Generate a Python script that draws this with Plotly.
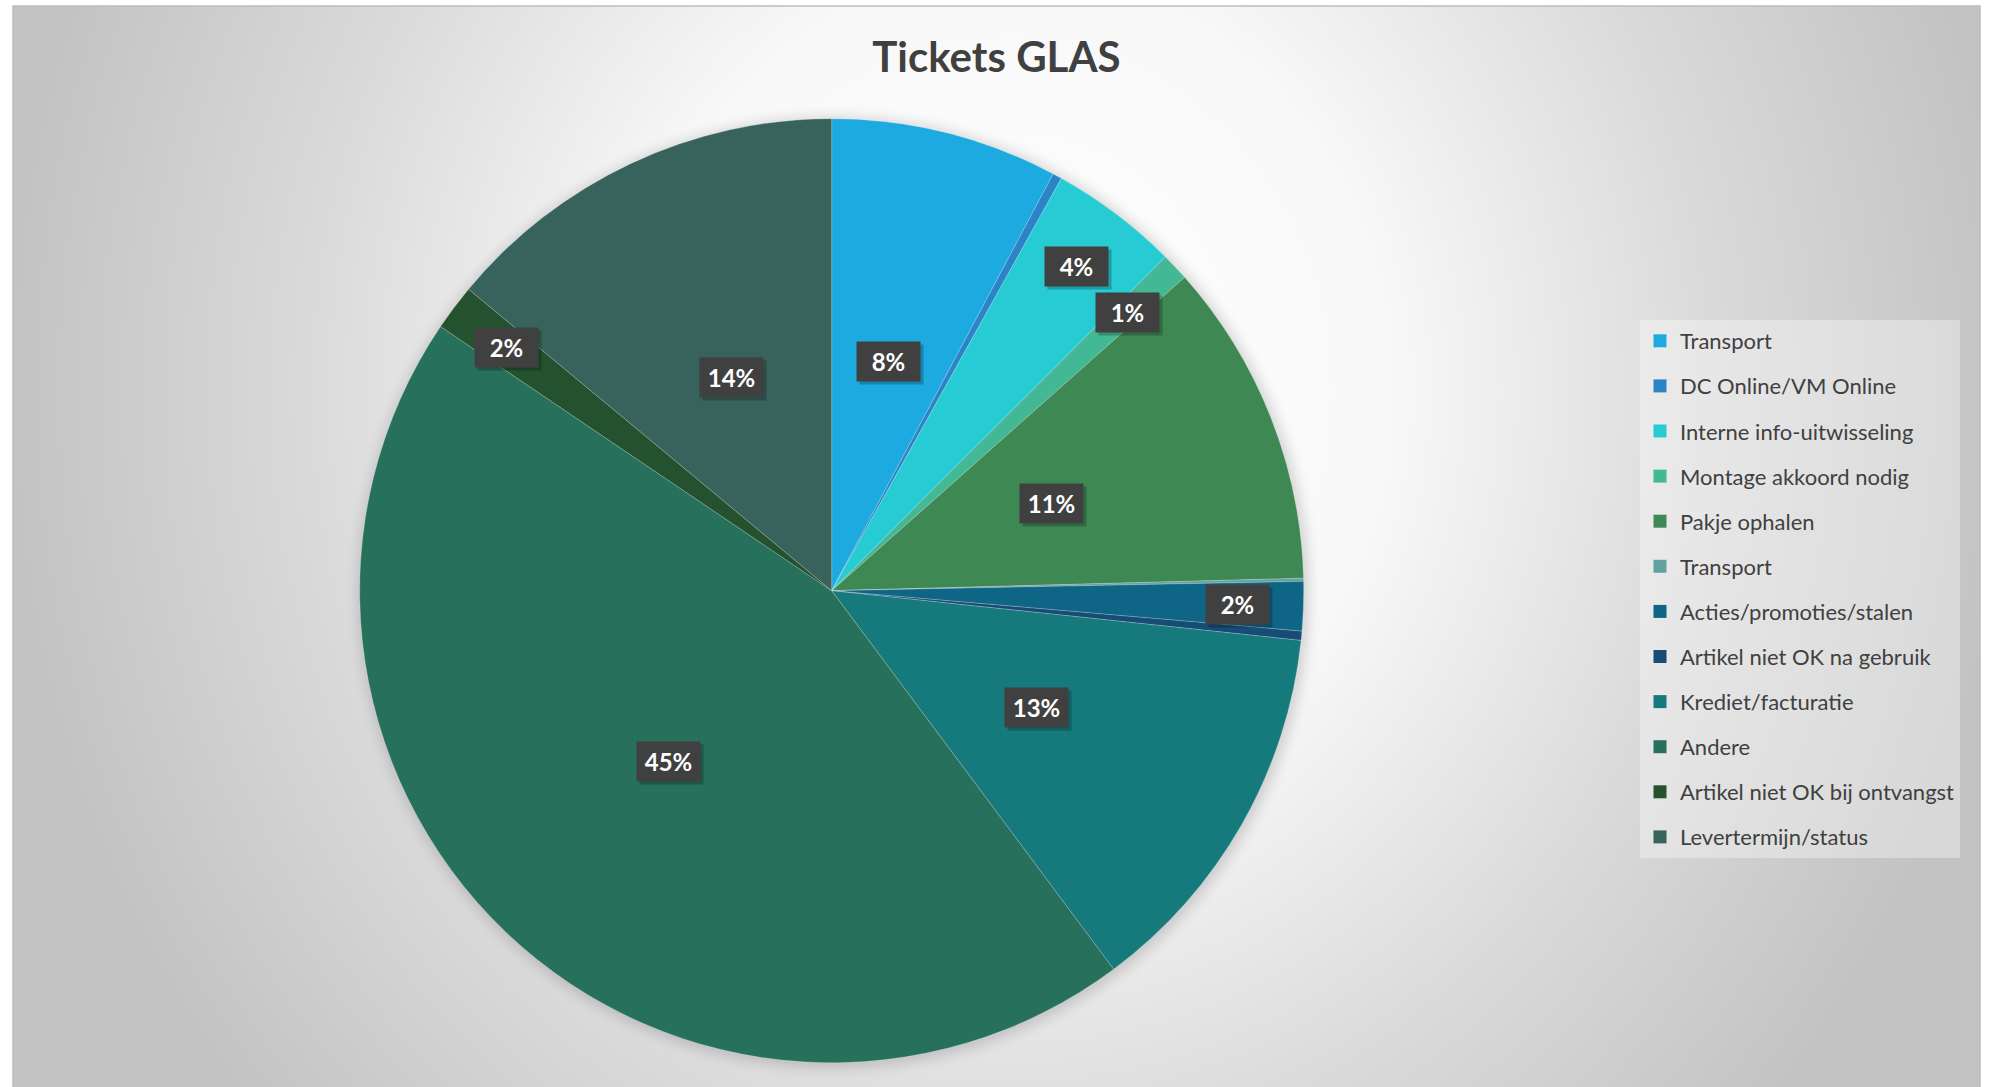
import math
import base64
import plotly.graph_objects as go

# Tickets GLAS: number of tickets per category
categories = ["Transport", "DC Online/VM Online", "Interne info-uitwisseling",
              "Montage akkoord nodig", "Pakje ophalen", "Transport",
              "Acties/promoties/stalen", "Artikel niet OK na gebruik",
              "Krediet/facturatie", "Andere", "Artikel niet OK bij ontvangst",
              "Levertermijn/status"]
tickets = [74, 3, 42, 9, 106, 1, 16, 3, 125, 425, 15, 133]

colors = ["#1DAAE0", "#2A84C6", "#26CBD4", "#43B894", "#3E8853", "#62A39F",
          "#0F6585", "#174C76", "#167A7D", "#26705C", "#24522F", "#38625C"]

W, H = 1993, 1087
cx, cy, r = 831.7, 590.7, 472.0   # pie centre / radius in pixels

# background: radial grey gradient + soft shadow behind the pie
svg = f"""<svg xmlns='http://www.w3.org/2000/svg' width='{W}' height='{H}' viewBox='0 0 {W} {H}' preserveAspectRatio='none'>
<defs>
<radialGradient id='g' gradientUnits='userSpaceOnUse' cx='0' cy='0' r='1' gradientTransform='translate(1010 390) scale(1000 1100)'>
<stop offset='0' stop-color='#ffffff'/>
<stop offset='0.38' stop-color='#f8f8f8'/>
<stop offset='0.7' stop-color='#dadada'/>
<stop offset='1' stop-color='#c3c3c3'/>
</radialGradient>
<filter id='b' x='-20%' y='-20%' width='140%' height='140%'><feGaussianBlur stdDeviation='7'/></filter>
</defs>
<rect width='{W}' height='{H}' fill='#ffffff'/>
<rect x='13' y='6' width='1967' height='1090' fill='url(#g)' stroke='#bdbdbd' stroke-width='1.5'/>
<circle cx='{cx + 2}' cy='{cy + 2}' r='{r + 3}' fill='#000000' opacity='0.16' filter='url(#b)'/>
</svg>"""
bg_src = "data:image/svg+xml;base64," + base64.b64encode(svg.encode()).decode()

fig = go.Figure()

fig.add_trace(go.Pie(
    labels=list(range(len(categories))), values=tickets,
    hovertext=categories, hoverinfo="text+value+percent",
    marker=dict(colors=colors, line=dict(color="rgba(255,255,255,0.35)", width=0.6)),
    sort=False, direction="clockwise", rotation=0,
    textinfo="none", showlegend=False,
    domain=dict(x=[(cx - r) / W, (cx + r) / W], y=[1 - (cy + r) / H, 1 - (cy - r) / H]),
))

# legend entries, one per category
for i, (name, c) in enumerate(zip(categories, colors)):
    fig.add_trace(go.Scatter(
        x=[None], y=[None], mode="markers", name=name, legendgroup=str(i),
        marker=dict(symbol="square", size=13, color=c), hoverinfo="skip",
    ))

# percentage labels (dark boxes), placed at the slice mid angles
total = sum(tickets)
annotations = []
cum = 0
for v in tickets:
    pct = 100 * v / total
    mid = (cum + v / 2) / total * 2 * math.pi
    cum += v
    shown = math.floor(pct + 0.5)
    if shown == 0:
        continue
    k = 0.5 if pct >= 5 else 0.86
    px = cx + k * r * math.sin(mid)
    py = cy - k * r * math.cos(mid)
    label = f"{shown}%"
    common = dict(x=px / W, y=1 - py / H, xref="paper", yref="paper",
                  xanchor="center", yanchor="middle",
                  showarrow=False, text=f"<b>{label}</b>", width=53, height=29,
                  borderpad=5, align="center")
    annotations.append(dict(common, font=dict(family="Lato", size=24, color="rgba(0,0,0,0)"),
                            bgcolor="rgba(0,0,0,0.22)", xshift=3, yshift=-3))
    annotations.append(dict(common, font=dict(family="Lato", size=24, color="#ffffff"),
                            bgcolor="#404040"))

fig.update_layout(
    width=W, height=H,
    margin=dict(l=0, r=0, t=0, b=0),
    paper_bgcolor="#ffffff", plot_bgcolor="rgba(0,0,0,0)",
    font=dict(family="Lato", color="#404040"),
    title=dict(text="<b>Tickets GLAS</b>", x=0.5, xanchor="center",
               y=1 - 57 / H, yanchor="middle",
               font=dict(family="Lato", size=42, color="#404040")),
    xaxis=dict(visible=False), yaxis=dict(visible=False),
    legend=dict(x=1640 / W, y=1 - 320 / H, xanchor="left", yanchor="top",
                bgcolor="rgba(255,255,255,0.35)", font=dict(family="Lato", size=22, color="#404040"),
                tracegroupgap=13.5, itemwidth=30),
    annotations=annotations,
    images=[dict(source=bg_src, xref="paper", yref="paper", x=0, y=1, sizex=1, sizey=1,
                 xanchor="left", yanchor="top", sizing="stretch", layer="below")],
)

fig.write_html("out.html", config={"displayModeBar": False},
               post_script="document.body.style.margin='0';")
